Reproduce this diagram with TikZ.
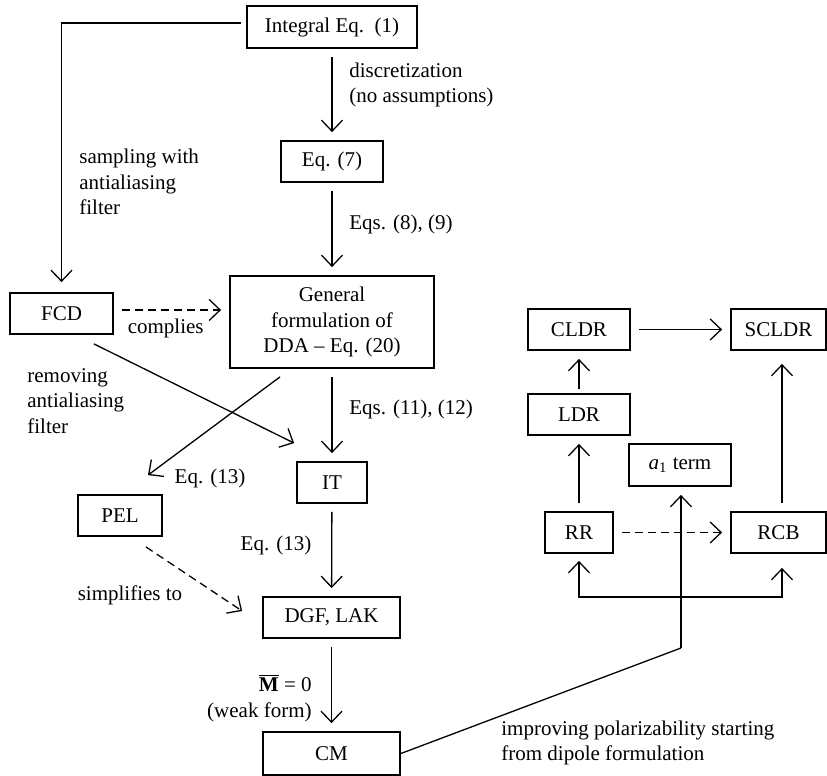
\documentclass[tikz,border=0pt]{standalone}
\usepackage{fontspec}
\setmainfont{Liberation Serif}
\usetikzlibrary{arrows.meta,calc}
\tikzset{
  blk/.style={draw,line width=0.9pt,inner sep=0pt,minimum height=20.5pt,align=center},
  arr/.style={-{Straight Barb[length=5.5pt,width=10.5pt]},line width=0.65pt,shorten >=4pt,shorten <=4pt},
  dsh/.style={dash pattern=on 4pt off 2.5pt},
  lbl/.style={inner sep=0pt,align=left}
}
\begin{document}
\begin{tikzpicture}[x=0.5pt,y=-0.5pt,font=\fontsize{10.5}{12.8}\selectfont]
\useasboundingbox (0,0) rectangle (827,776);
%boxes, left part
\node[blk,minimum width=85pt,minimum height=21pt] (int) at (332,27) {Integral Eq.\ \ (1)};
\node[blk,minimum width=51pt] (eq7) at (332,161.5) {Eq. (7)};
\node[blk,minimum width=102pt,minimum height=46pt] (gen) at (332,322) {General\\formulation of\\DDA -- Eq. (20)};
\node[blk,minimum width=51.5pt] (fcd) at (61.5,313.5) {FCD};
\node[blk,minimum width=35pt] (it) at (332,482.5) {IT};
\node[blk,minimum width=42pt] (pel) at (120,515.5) {PEL};
\node[blk,minimum width=68.5pt] (dgf) at (331.5,617.5) {DGF, LAK};
\node[blk,minimum width=68.5pt,minimum height=21.5pt] (cm) at (331.5,753.5) {CM};
%boxes, right part
\node[blk,minimum width=51pt,minimum height=21pt] (a1) at (680,465) {\textit{a}\textsubscript{1} term};
\node[blk,minimum width=34pt] (rr) at (579,532.5) {RR};
\node[blk,minimum width=47.5pt] (rcb) at (778.5,532.5) {RCB};
\node[blk,minimum width=51pt] (ldr) at (579,414.5) {LDR};
\node[blk,minimum width=51pt] (cldr) at (579,329.5) {CLDR};
\node[blk,minimum width=47.5pt] (scldr) at (778.5,329.5) {SCLDR};
%main chain
\draw[arr] (int) -- (eq7);
\draw[arr] (eq7) -- (gen);
\draw[arr] (gen) -- (it);
\draw[arr] (it) -- (dgf);
\draw[arr] (dgf) -- (cm);
\draw[arr,shorten <=2.5pt,shorten >=5pt] ([yshift=2pt]int.west) -| (fcd.north);
\draw[arr,dsh] ([yshift=1.75pt]fcd.east) -- ([yshift=1.75pt]fcd.east -| gen.west) node[pos=0.45,below=1pt] (cmp) {complies};
\draw[arr,shorten <=0pt,shorten >=0pt] ([xshift=-10pt,yshift=-4.5pt]fcd.south east) -- ([xshift=-1pt,yshift=9pt]it.north west);
\draw[arr,shorten <=0pt,shorten >=0pt] ([xshift=-26pt,yshift=-4pt]gen.south) -- ([xshift=14pt,yshift=9.5pt]pel.north);
\draw[arr,dsh,shorten <=0pt,shorten >=0pt] ([xshift=-8.5pt,yshift=-5pt]pel.south east) -- ([xshift=-10pt,yshift=3.25pt]dgf.west);
%labels
\node[lbl,anchor=west] (lbdis) at (349,85) {discretization\\(no assumptions)};
\node[lbl,anchor=west] (lb89) at (349,224) {Eqs. (8), (9)};
\node[lbl,anchor=west] (lbsmp) at (79,182) {sampling with\\antialiasing\\filter};
\node[lbl,anchor=west] (lbrem) at (27,401) {removing\\antialiasing\\filter};
\node[lbl,anchor=west] (lb1112) at (349,409) {Eqs. (11), (12)};
\node (lb13a) at (210,478) {Eq. (13)};
\node (lb13b) at (276,545) {Eq. (13)};
\node (lbsim) at (130,595) {simplifies to};
\node[lbl,anchor=east,align=right] (lbM) at (312,698) {$\overline{\hbox{\textbf{M}}}$ = 0\\(weak form)};
\node[lbl,anchor=west] (lbimp) at (501,743) {improving polarizability starting\\from dipole formulation};
%right part
\coordinate (bend) at (681,648);
\coordinate (junc) at (681,597);
\draw[line width=0.65pt] (cm.east) -- (bend);
\draw[arr,shorten <=0pt] (bend) -- (a1.south -| bend);
\draw[arr,shorten <=0pt,shorten >=3.5pt] (junc) -| (rr.south);
\draw[arr,shorten <=0pt,shorten >=7pt] (junc) -| ([xshift=1.75pt]rcb.south);
\draw[arr] (rr) -- (ldr);
\draw[arr,shorten <=2pt] (ldr) -- (cldr);
\draw[arr] (cldr) -- (scldr);
\draw[arr,shorten >=6.5pt] ([xshift=1.75pt]rcb.north) -- ([xshift=1.75pt]scldr.south);
\draw[arr,dsh] (rr) -- (rcb);
\end{tikzpicture}
\end{document}
